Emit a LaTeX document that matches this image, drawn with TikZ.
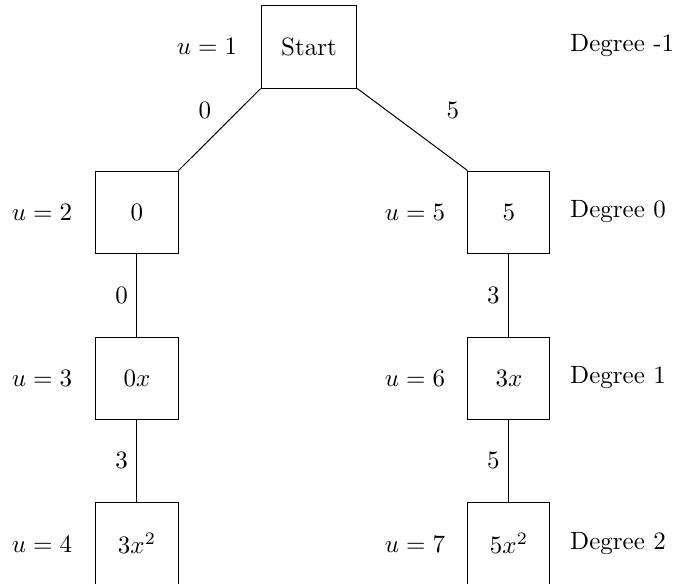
\documentclass[tikz,border=0pt]{standalone}
\usepackage{amsmath}
\usetikzlibrary{positioning}

\begin{document}
\begin{tikzpicture}[x=0.4pt,y=0.4pt,
  term/.style={draw, minimum width=32.8pt, minimum height=32.8pt, inner sep=0pt},
  lbl/.style={inner sep=3.5pt}]
\useasboundingbox (0,0) rectangle (676,583);
\clip (0,0) rectangle (676,583);
% Boxes
\node[term, minimum width=38.2pt, minimum height=33.2pt] (start) at (309,536.5) {Start};
\node[term] (a0) at (137,371) {$0$};
\node[term] (b0) at (509,371) {$5$};
\node[term] (a1) at (137,205) {$0x$};
\node[term] (b1) at (509,205) {$3x$};
\node[term] (a2) at (137,40) {$3x^2$};
\node[term] (b2) at (509,40) {$5x^2$};
% Connectors
\draw (start.south west) -- (a0.north east);
\draw (start.south east) -- (b0.north west);
\draw (a0) -- node[lbl, left] {$0$} (a1);
\draw (a1) -- node[lbl, left] {$3$} (a2);
\draw (b0) -- node[lbl, left] {$3$} (b1);
\draw (b1) -- node[lbl, left] {$5$} (b2);
% Edge labels of the first level
\node[lbl] (e0) at (205,473) {$0$};
\node[lbl] (e5) at (453,473) {$5$};
% Indices
\foreach \n/\x/\y/\u in {u1/207/537/1, u2/42/371/2, u5/415/371/5, u3/42/205/3,
  u6/415/205/6, u4/42/39/4, u7/415/39/7} {
  \node[lbl] (\n) at (\x,\y) {$u=\u$};
}
% Degrees
\foreach \d/\y in {-1/537, 0/371, 1/205, 2/39} {
  \node[lbl, anchor=west] (deg\y) at (561,\y) {Degree \d};
}
\end{tikzpicture}
\end{document}
